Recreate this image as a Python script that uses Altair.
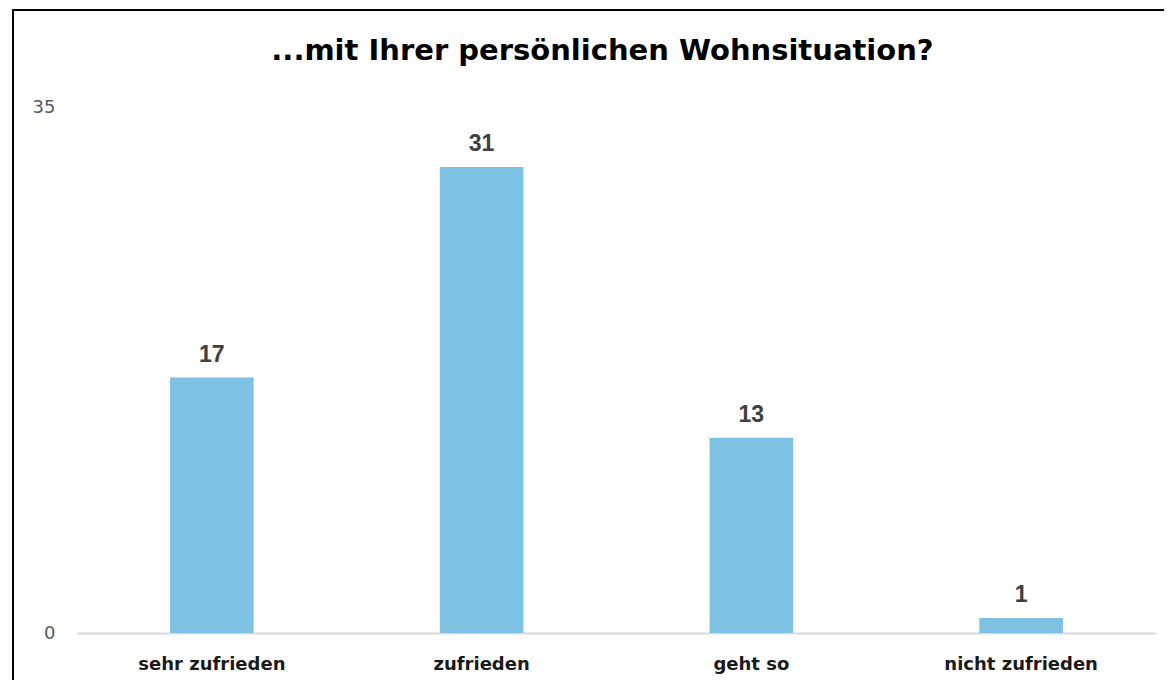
import altair as alt
import pandas as pd

categories = ["sehr zufrieden", "zufrieden", "geht so", "nicht zufrieden"]
values = [17, 31, 13, 1]
y_ticks = [0, 35]
title_text = ["...mit Ihrer persönlichen Wohnsituation?"]

df = pd.DataFrame({"cat": categories, "val": values})

FONT = "DejaVu Sans"
NUM_FONT = "Liberation Sans Narrow, Liberation Sans, DejaVu Sans"

PLOT_W = 1079
PLOT_H = 526

base = alt.Chart(df)

x_enc = alt.X(
    "cat:N",
    sort=categories,
    scale=alt.Scale(paddingInner=0.69, paddingOuter=0.345),
    axis=alt.Axis(
        title=None,
        labelAngle=0,
        ticks=False,
        labelPadding=22,
        labelFont=FONT,
        labelFontSize=18,
        labelFontWeight="bold",
        labelColor="#1a1a1a",
        domainColor="#d9d9d9",
        domainWidth=2,
        grid=False,
    ),
)
y_enc = alt.Y(
    "val:Q",
    scale=alt.Scale(domain=[0, 35], nice=False),
    axis=alt.Axis(
        title=None,
        values=y_ticks,
        ticks=False,
        domain=False,
        grid=False,
        labelPadding=22,
        labelFont=FONT,
        labelFontSize=18,
        labelColor="#595959",
    ),
)

bars = base.mark_bar(color="#7DC2E3").encode(x=x_enc, y=y_enc)

labels = base.mark_text(
    baseline="alphabetic",
    dy=-16,
    font=NUM_FONT,
    fontSize=23,
    fontWeight="bold",
    color="#404040",
).encode(x=alt.X("cat:N", sort=categories), y="val:Q", text="val:Q")

one = pd.DataFrame({"t": title_text})

title = alt.Chart(one).mark_text(
    font=FONT,
    fontSize=29,
    fontWeight="bold",
    color="#000000",
    align="center",
    baseline="alphabetic",
).encode(
    x=alt.value(PLOT_W / 2 - 14),
    y=alt.value(-47),
    text="t:N",
)

frame = alt.Chart(one).mark_rect(
    fill=None, stroke="black", strokeWidth=2
).encode(
    x=alt.value(-64),
    x2=alt.value(3000),
    y=alt.value(-97),
    y2=alt.value(3000),
)

chart = (
    alt.layer(frame, bars, labels, title)
    .properties(
        width=PLOT_W,
        height=PLOT_H,
        autosize=alt.AutoSizeParams(type="none"),
        padding={"left": 69, "top": 99, "right": 8, "bottom": 47},
    )
    .configure(background="white")
    .configure_view(strokeWidth=0, stroke="transparent")
)

chart.save("out.html", embed_options={"renderer": "svg", "actions": False})
